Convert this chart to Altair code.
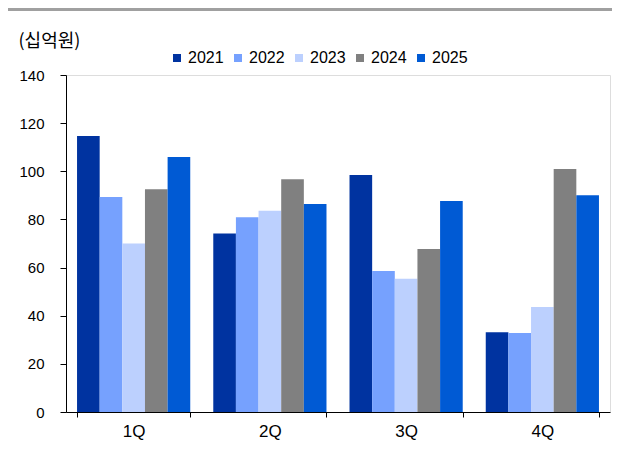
import altair as alt
import pandas as pd

quarters = ["1Q", "2Q", "3Q", "4Q"]
years = ["2021", "2022", "2023", "2024", "2025"]
v2021 = [114.7, 74.2, 98.5, 33.1]
v2022 = [89.3, 80.9, 58.6, 32.8]
v2023 = [70.0, 83.6, 55.4, 43.6]
v2024 = [92.5, 96.7, 67.7, 101.0]
v2025 = [105.9, 86.4, 87.7, 90.0]
colors = ["#0033a0", "#76a1fe", "#bcd0fe", "#808080", "#005ad4"]
y_ticks = [0, 20, 40, 60, 80, 100, 120, 140]

series = [v2021, v2022, v2023, v2024, v2025]
rows = []
for yr, vals in zip(years, series):
    for q, v in zip(quarters, vals):
        rows.append({"quarter": q, "year": yr, "value": v})
df = pd.DataFrame(rows)

FONT = "Liberation Sans, Arial, sans-serif"
KFONT = "Noto Sans CJK KR"

bars = alt.Chart(df).mark_bar().encode(
    x=alt.X("quarter:N", sort=quarters,
            scale=alt.Scale(paddingInner=0.169, paddingOuter=0.081),
            axis=alt.Axis(title=None, labelAngle=0, tickBand="extent",
                          labelFontSize=17, labelFont=FONT, labelColor="#000",
                          labelPadding=6, tickSize=5, tickColor="#000",
                          domainColor="#000", grid=False)),
    xOffset=alt.XOffset("year:N", sort=years, scale=alt.Scale(paddingInner=0, paddingOuter=0)),
    y=alt.Y("value:Q", scale=alt.Scale(domain=[0, 140], nice=False),
            axis=alt.Axis(values=y_ticks, title="(십억원)", titleAngle=0,
                          titleAlign="left", titleBaseline="middle",
                          titleX=-48, titleY=-34, titleFont=KFONT,
                          titleFontSize=18, titleFontWeight="normal", titleColor="#000",
                          labelFontSize=15, labelFont=FONT, labelColor="#000",
                          labelPadding=16, tickSize=6, tickColor="#000",
                          domainColor="#000", grid=False)),
    color=alt.Color("year:N", sort=years,
                    scale=alt.Scale(domain=years, range=colors),
                    legend=alt.Legend(title=None, orient="none", direction="horizontal",
                                      columns=5, legendX=103, legendY=-25,
                                      symbolType="square", symbolSize=64,
                                      symbolStrokeWidth=0, labelFontSize=16,
                                      labelFont=FONT, labelColor="#000",
                                      labelOffset=3, columnPadding=6)),
)

top_line = alt.Chart(pd.DataFrame({"a": [0]})).mark_rule(color="#a0a0a0", strokeWidth=3).encode(
    x=alt.value(-58), x2=alt.value(546), y=alt.value(-65.5)
)

chart = alt.layer(top_line, bars).properties(
    width=544, height=337,
    autosize=alt.AutoSizeParams(type="none"),
    padding={"left": 58, "top": 67, "right": 2, "bottom": 36},
).configure_view(stroke=None).configure(background="white")

chart.save("out.html", embed_options={"renderer": "svg", "actions": False})
